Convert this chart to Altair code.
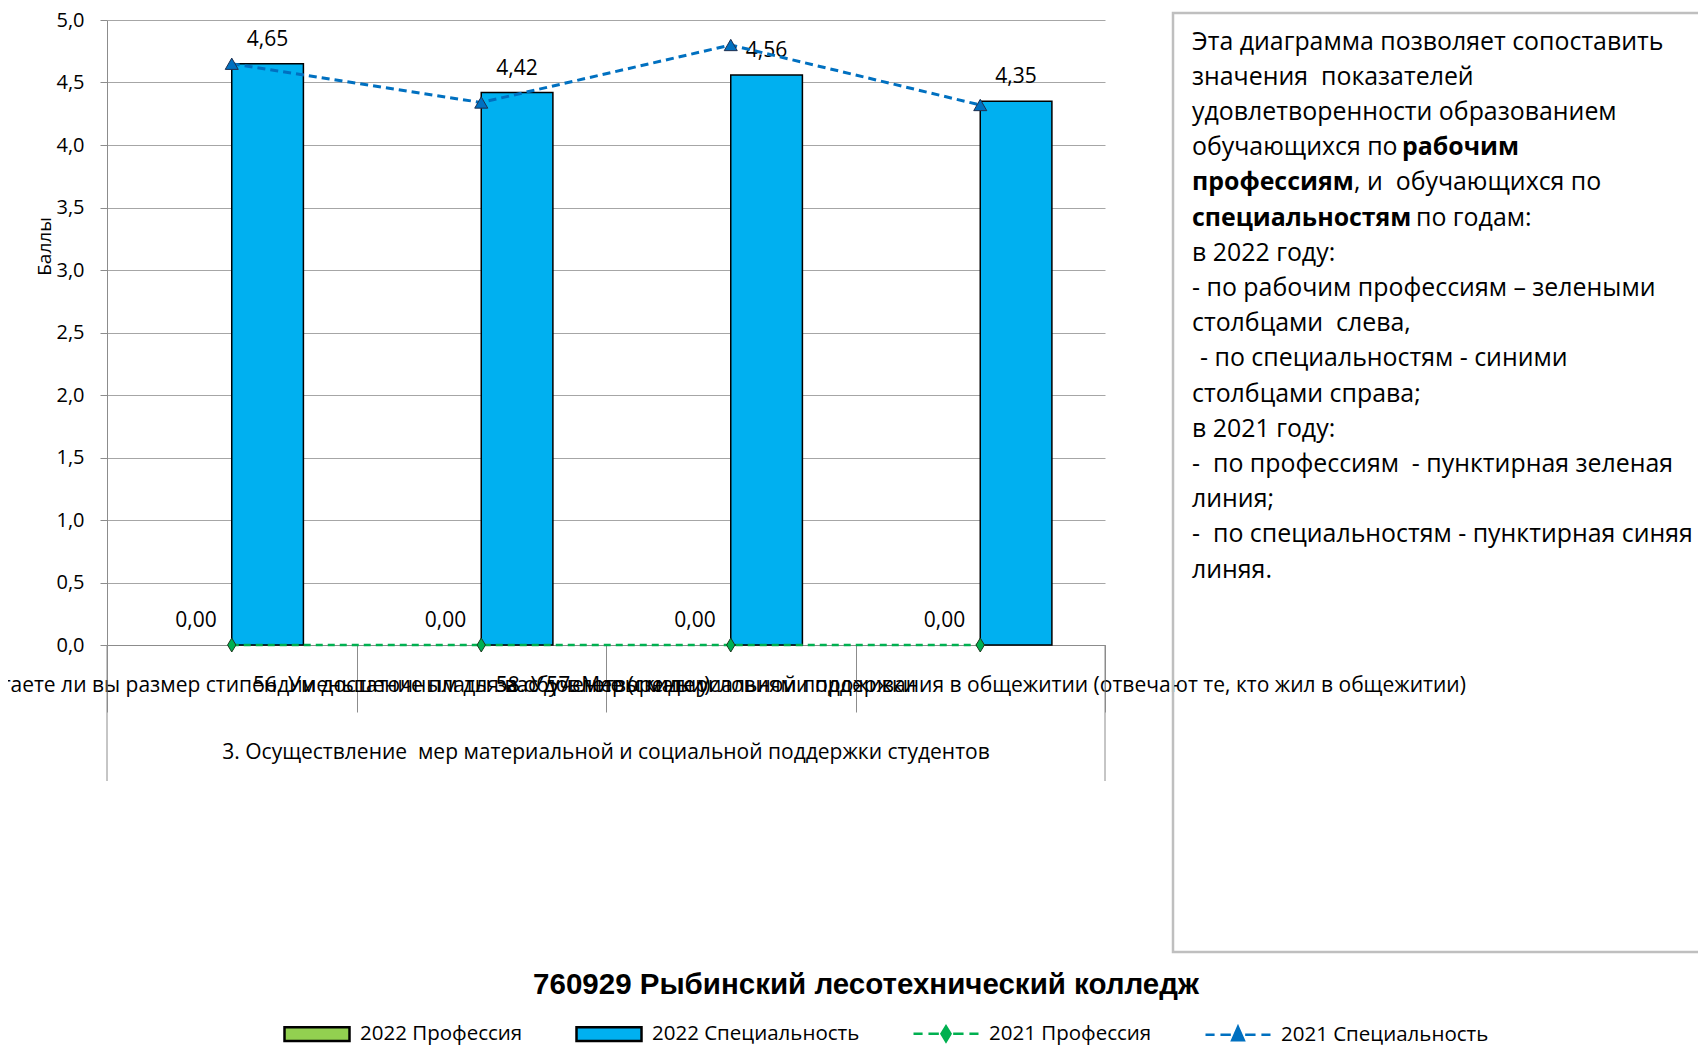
import altair as alt
import pandas as pd

# ---------------- data ----------------
categories = [
    "55. Считаете ли вы размер стипендии достаточным для вас",
    "56. Уменьшение платы за обучение (скидки)",
    "57. Меры материальной поддержки",
    "58. Удовлетворены условиями проживания в общежитии (отвечают те, кто жил в общежитии)",
]
series_2022 = ["2022 Профессия", "2022 Специальность"]
series_2021 = ["2021 Профессия", "2021 Специальность"]
prof_2022 = [0.0, 0.0, 0.0, 0.0]
spec_2022 = [4.65, 4.42, 4.56, 4.35]
prof_2021 = [0.0, 0.0, 0.0, 0.0]
spec_2021 = [4.65, 4.34, 4.80, 4.32]
y_ticks = [0.0, 0.5, 1.0, 1.5, 2.0, 2.5, 3.0, 3.5, 4.0, 4.5, 5.0]
y_title = "Баллы"
group_label = "3. Осуществление  мер материальной и социальной поддержки студентов"
chart_title = "760929 Рыбинский лесотехнический колледж"
note_lines = [
    [("Эта диаграмма позволяет сопоставить", False)],
    [("значения  показателей", False)],
    [("удовлетворенности образованием", False)],
    [("обучающихся по", False), ("рабочим", True)],
    [("профессиям", True), (", и  обучающихся по", False)],
    [("специальностям", True), ("по годам:", False)],
    [("в 2022 году:", False)],
    [("- по рабочим профессиям – зелеными", False)],
    [("столбцами  слева,", False)],
    [("- по специальностям - синими", False)],
    [("столбцами справа;", False)],
    [("в 2021 году:", False)],
    [("-  по профессиям  - пунктирная зеленая", False)],
    [("линия;", False)],
    [("-  по специальностям - пунктирная синяя", False)],
    [("линяя.", False)],
]
series_all = series_2022 + series_2021


def keep_spaces(s):
    # keep double spaces visible in SVG text
    return s.replace("  ", " \u00a0")


# ---------------- styles / layout ----------------
FONT = "Open Sans"
W, H = 998, 625
GRID = "#A6A6A6"
AXIS = "#8C8C8C"
GREEN_BAR = "#92D050"
BLUE_BAR = "#00B0F0"
GREEN_LINE = "#00B050"
BLUE_LINE = "#0070C0"

# x offsets (px, relative to plot) of the note text segments
note_x0 = 1085
note_seg_x = {3: [1085, 1295], 4: [1085, 1247], 5: [1085, 1309], 9: [1093]}
note_y0, note_dy = 22.5, 35.2

bars_df = pd.DataFrame({
    "cat": categories * 2,
    "series": [s for s in series_2022 for _ in categories],
    "value": prof_2022 + spec_2022,
})
lines_df = pd.DataFrame({
    "cat": categories * 2,
    "series": [s for s in series_2021 for _ in categories],
    "value": prof_2021 + spec_2021,
})
one = pd.DataFrame({"k": [0]})

x_enc = alt.X(
    "cat:N", sort=categories, title=None,
    scale=alt.Scale(paddingInner=0, paddingOuter=0),
    axis=alt.Axis(
        labelAngle=0, labelLimit=3000, labelOverlap=False, labelFont=FONT,
        labelFontSize=21, labelColor="black", labelBaseline="middle",
        labelPadding=-27, tickBand="extent", tickSize=67, tickColor=AXIS,
        tickWidth=1, domainColor=AXIS, domainWidth=1, grid=False,
    ),
)
y_enc = alt.Y(
    "value:Q",
    scale=alt.Scale(domain=[0, 5], nice=False),
    axis=alt.Axis(
        values=y_ticks, labelExpr="replace(format(datum.value, '.1f'), '.', ',')",
        labelFont=FONT, labelFontSize=20, labelColor="black", labelPadding=16,
        tickSize=7, tickColor=AXIS, domainColor=AXIS, gridColor=GRID, gridWidth=1,
        title=y_title, titleFont=FONT, titleFontSize=19, titleFontWeight="normal",
        titleColor="black", titleAngle=-90, titleX=-63, titleY=226,
        titleAlign="center", titleBaseline="middle",
    ),
)
xoff = alt.XOffset("series:N", sort=series_2022,
                   scale=alt.Scale(domain=series_2022, paddingInner=0, paddingOuter=0.741))

bars = alt.Chart(bars_df).mark_bar(stroke="black", strokeWidth=1.5).encode(
    x=x_enc, xOffset=xoff, y=y_enc,
    color=alt.Color("series:N", scale=alt.Scale(domain=series_2022, range=[GREEN_BAR, BLUE_BAR]), legend=None),
).transform_filter("datum.value > 0")

bar_labels = alt.Chart(bars_df).transform_calculate(
    lab="replace(format(datum.value, '.2f'), '.', ',')"
).mark_text(font=FONT, fontSize=21, color="black", baseline="middle", dy=-24).encode(
    x=x_enc, xOffset=xoff, y=y_enc, text="lab:N"
)

line_prof = alt.Chart(lines_df).transform_filter(alt.datum.series == series_2021[0]).mark_line(
    color=GREEN_LINE, strokeWidth=2.5, strokeDash=[7, 5]).encode(x=x_enc, y=y_enc)
line_spec = alt.Chart(lines_df).transform_filter(alt.datum.series == series_2021[1]).mark_line(
    color=BLUE_LINE, strokeWidth=3, strokeDash=[8, 5]).encode(x=x_enc, y=y_enc)
pts_prof = alt.Chart(lines_df).transform_filter(alt.datum.series == series_2021[0]).mark_point(
    shape="M0,-1L0.6,0L0,1L-0.6,0Z", size=196, filled=True, fill=GREEN_LINE,
    stroke="#1E3A1E", strokeWidth=1, opacity=1).encode(x=x_enc, y=y_enc)
pts_spec = alt.Chart(lines_df).transform_filter(alt.datum.series == series_2021[1]).mark_point(
    shape="triangle-up", size=170, filled=True, fill=BLUE_LINE,
    stroke="#1F2F4F", strokeWidth=1, opacity=1).encode(x=x_enc, y=y_enc)

# outer category-axis borders and group label
outer_l = alt.Chart(one).mark_rule(color=AXIS, strokeWidth=1).encode(
    x=alt.value(0), y=alt.value(H), y2=alt.value(H + 136))
outer_r = alt.Chart(one).mark_rule(color=AXIS, strokeWidth=1).encode(
    x=alt.value(W), y=alt.value(H), y2=alt.value(H + 136))
group_txt = alt.Chart(one).mark_text(font=FONT, fontSize=21, color="black",
                                     align="center", baseline="middle",
                                     text=keep_spaces(group_label)).encode(
    x=alt.value(W / 2), y=alt.value(H + 108))

# note box
box = alt.Chart(one).mark_rect(fill="white", fillOpacity=0, stroke="#BFBFBF", strokeWidth=2.5).encode(
    x=alt.value(1066), x2=alt.value(2000), y=alt.value(-7), y2=alt.value(932))
note_layers = []
for i, segs in enumerate(note_lines):
    xs = note_seg_x.get(i, [note_x0])
    for j, (txt, bold) in enumerate(segs):
        note_layers.append(
            alt.Chart(one).mark_text(font=FONT, fontSize=24.9, color="black", align="left",
                                     baseline="middle", fontWeight="bold" if bold else "normal",
                                     text=keep_spaces(txt)).encode(
                x=alt.value(xs[j]), y=alt.value(note_y0 + note_dy * i))
        )

title_txt = alt.Chart(one).mark_text(font="Liberation Sans", fontSize=29.5, fontWeight="bold",
                                     color="black", align="center", baseline="middle",
                                     text=chart_title).encode(
    x=alt.value(759), y=alt.value(965))

# legend (built-in), symbols as custom paths
rect_path = "M-1,-0.21H1V0.21H-1Z"
dash_part = "M-1,0H-0.72M-0.54,0H-0.22M0.22,0H0.54M0.72,0H1"
dia_path = dash_part + "M0,-0.23L0.14,0L0,0.23L-0.14,0Z"
tri_path = dash_part + "M0,-0.24L0.18,0.17L-0.18,0.17Z"
leg = alt.Legend(
    orient="none", legendX=176, legendY=979.5, direction="horizontal", columns=4,
    title=None, symbolSize=4225, symbolStrokeWidth=2.5, symbolOpacity=1,
    labelFont=FONT, labelFontSize=20.5, labelColor="black", labelOffset=9,
    labelLimit=1000, columnPadding=48, padding=0,
)
legend_layer = alt.Chart(pd.DataFrame({"series": series_all})).mark_point(
    opacity=0, filled=True).encode(
    x=alt.value(0), y=alt.value(0),
    fill=alt.Fill("series:N", scale=alt.Scale(domain=series_all,
                  range=[GREEN_BAR, BLUE_BAR, GREEN_LINE, BLUE_LINE]), legend=leg),
    stroke=alt.Stroke("series:N", scale=alt.Scale(domain=series_all,
                      range=["black", "black", GREEN_LINE, BLUE_LINE]), legend=leg),
    shape=alt.Shape("series:N", scale=alt.Scale(domain=series_all,
                    range=[rect_path, rect_path, dia_path, tri_path]), legend=leg),
)

chart = alt.layer(
    box, *note_layers, bars, bar_labels, line_prof, line_spec, pts_prof, pts_spec,
    outer_l, outer_r, group_txt, title_txt, legend_layer,
).properties(
    width=W, height=H,
    autosize=alt.AutoSizeParams(type="none"),
    padding={"left": 99, "top": 12, "right": 593, "bottom": 401},
).configure_view(stroke=None)

chart.save("out.html", embed_options={"renderer": "svg", "actions": False})
